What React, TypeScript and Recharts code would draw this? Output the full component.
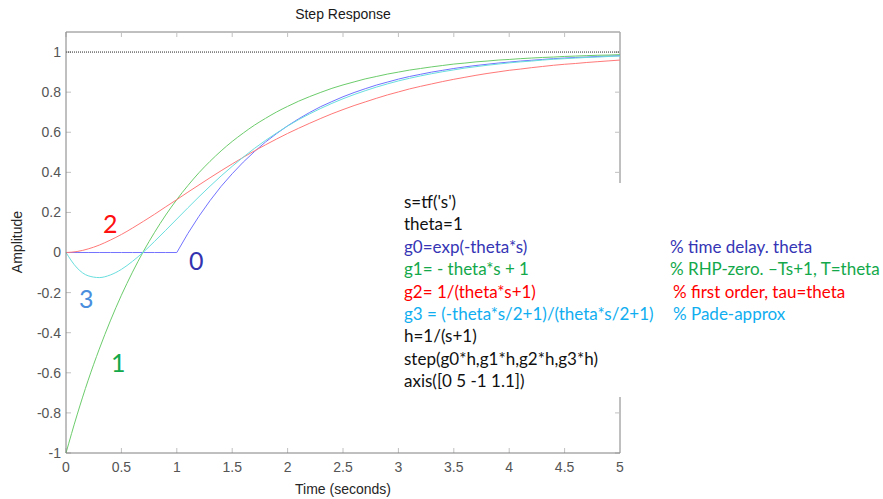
import { LineChart, Line, XAxis, YAxis, ReferenceLine } from "recharts";

const time = [
  0, 0.1, 0.2, 0.3, 0.4, 0.5, 0.6, 0.7, 0.8, 0.9, 1, 1.1, 1.2, 1.3, 1.4, 1.5, 1.6, 1.7, 1.8, 1.9, 2,
  2.1, 2.2, 2.3, 2.4, 2.5, 2.6, 2.7, 2.8, 2.9, 3, 3.1, 3.2, 3.3, 3.4, 3.5, 3.6, 3.7, 3.8, 3.9, 4,
  4.1, 4.2, 4.3, 4.4, 4.5, 4.6, 4.7, 4.8, 4.9, 5,
];

// g0*h : time delay
const delayed = [
  0, 0, 0, 0, 0, 0, 0, 0, 0, 0, 0, 0.095, 0.181, 0.259, 0.33, 0.393, 0.451, 0.503, 0.551, 0.593, 0.632,
  0.667, 0.699, 0.728, 0.753, 0.777, 0.798, 0.817, 0.835, 0.85, 0.865, 0.878, 0.889, 0.9, 0.909, 0.918,
  0.926, 0.933, 0.939, 0.945, 0.95, 0.955, 0.959, 0.963, 0.967, 0.97, 0.973, 0.975, 0.978, 0.98, 0.982,
];

// g1*h : RHP zero
const rhpZero = [
  -1, -0.81, -0.637, -0.482, -0.341, -0.213, -0.098, 0.007, 0.101, 0.187, 0.264, 0.334, 0.398, 0.455,
  0.507, 0.554, 0.596, 0.635, 0.669, 0.701, 0.729, 0.755, 0.778, 0.799, 0.819, 0.836, 0.851, 0.866,
  0.878, 0.89, 0.9, 0.91, 0.918, 0.926, 0.933, 0.94, 0.945, 0.951, 0.955, 0.96, 0.963, 0.967, 0.97,
  0.973, 0.975, 0.978, 0.98, 0.982, 0.984, 0.985, 0.987,
];

// g2*h : first order
const firstOrder = [
  0, 0.005, 0.018, 0.037, 0.062, 0.09, 0.122, 0.156, 0.191, 0.228, 0.264, 0.301, 0.337, 0.373, 0.408,
  0.442, 0.475, 0.507, 0.537, 0.566, 0.594, 0.62, 0.645, 0.669, 0.692, 0.713, 0.733, 0.751, 0.769,
  0.786, 0.801, 0.816, 0.829, 0.841, 0.853, 0.864, 0.874, 0.884, 0.893, 0.901, 0.909, 0.915, 0.922,
  0.928, 0.934, 0.939, 0.943, 0.948, 0.952, 0.956, 0.96,
];

// g3*h : Pade approximation
const pade = [
  0, -0.077, -0.116, -0.125, -0.112, -0.084, -0.044, 0.003, 0.056, 0.111, 0.167, 0.223, 0.278, 0.331,
  0.382, 0.43, 0.476, 0.519, 0.559, 0.596, 0.631, 0.663, 0.692, 0.719, 0.744, 0.767, 0.788, 0.807,
  0.825, 0.841, 0.856, 0.869, 0.881, 0.892, 0.902, 0.911, 0.92, 0.927, 0.934, 0.94, 0.946, 0.951,
  0.955, 0.96, 0.964, 0.967, 0.97, 0.973, 0.975, 0.978, 0.98,
];

const xTicks = [0, 0.5, 1, 1.5, 2, 2.5, 3, 3.5, 4, 4.5, 5];
const yTicks = [-1, -0.8, -0.6, -0.4, -0.2, 0, 0.2, 0.4, 0.6, 0.8, 1];

const codeLines = [
  { code: "s=tf('s')", note: "", color: "#111" },
  { code: "theta=1", note: "", color: "#111" },
  { code: "g0=exp(-theta*s)", note: "% time delay. theta", color: "#3535b5" },
  { code: "g1= - theta*s + 1", note: "% RHP-zero. \u2013Ts+1, T=theta", color: "#13a84a" },
  { code: "g2= 1/(theta*s+1)", note: "% first order, tau=theta", color: "#ff0000" },
  { code: "g3 = (-theta*s/2+1)/(theta*s/2+1)", note: "% Pade-approx", color: "#10aef0" },
  { code: "h=1/(s+1)", note: "", color: "#111" },
  { code: "step(g0*h,g1*h,g2*h,g3*h)", note: "", color: "#111" },
  { code: "axis([0 5 -1 1.1])", note: "", color: "#111" },
];

const data = time.map((t, i) => ({
  t,
  g0: delayed[i],
  g1: rhpZero[i],
  g2: firstOrder[i],
  g3: pade[i],
}));

const axisGrey = "#808080";
const tickGrey = "#c0c0c0";
const font = "'Liberation Sans', Arial, sans-serif";

export default function App() {
  return (
    <div style={{ position: "absolute", left: 0, top: 0, width: 883, height: 499, background: "#fff", fontFamily: font }}>
      <LineChart width={883} height={499} data={data} margin={{ top: 32, right: 263, bottom: 0, left: 0 }}>
        <XAxis
          dataKey="t"
          type="number"
          domain={[0, 5]}
          ticks={xTicks}
          height={46}
          tickLine={false}
          tickSize={4}
          tickMargin={5}
          axisLine={{ stroke: axisGrey }}
          tick={{ fill: "#555", fontSize: 14, fontFamily: font }}
        />
        <YAxis
          type="number"
          domain={[-1, 1.1]}
          ticks={yTicks}
          width={66}
          tickLine={false}
          tickSize={3}
          tickMargin={2}
          axisLine={{ stroke: axisGrey }}
          tick={{ fill: "#555", fontSize: 14, fontFamily: font }}
          allowDataOverflow
        />
        <ReferenceLine segment={[{ x: 0, y: 1.1 }, { x: 5, y: 1.1 }]} stroke={axisGrey} />
        <ReferenceLine segment={[{ x: 5, y: -1 }, { x: 5, y: 1.1 }]} stroke={axisGrey} />
        {xTicks.map((v) => (
          <ReferenceLine key={"xb" + v} segment={[{ x: v, y: -1 }, { x: v, y: -0.975 }]} stroke={tickGrey} />
        ))}
        {xTicks.map((v) => (
          <ReferenceLine key={"xt" + v} segment={[{ x: v, y: 1.1 }, { x: v, y: 1.075 }]} stroke={tickGrey} />
        ))}
        {yTicks.map((v) => (
          <ReferenceLine key={"yl" + v} segment={[{ x: 0, y: v }, { x: 0.045, y: v }]} stroke={tickGrey} />
        ))}
        {yTicks.map((v) => (
          <ReferenceLine key={"yr" + v} segment={[{ x: 4.955, y: v }, { x: 5, y: v }]} stroke={tickGrey} />
        ))}
        <ReferenceLine y={1} stroke="#222" strokeDasharray="1 1" />
        <Line dataKey="g0" type="linear" stroke="#7272ff" strokeWidth={1} dot={false} isAnimationActive={false} />
        <Line dataKey="g1" type="monotone" stroke="#6ccc6c" strokeWidth={1} dot={false} isAnimationActive={false} />
        <Line dataKey="g2" type="monotone" stroke="#ff7878" strokeWidth={1} dot={false} isAnimationActive={false} />
        <Line dataKey="g3" type="monotone" stroke="#6adede" strokeWidth={1} dot={false} isAnimationActive={false} />
      </LineChart>

      <div style={{ position: "absolute", left: 0, width: 686, top: 6, textAlign: "center", fontSize: 14, color: "#1a1a1a" }}>
        Step Response
      </div>
      <div style={{ position: "absolute", left: 0, width: 686, top: 481, textAlign: "center", fontSize: 14, color: "#262626" }}>
        Time (seconds)
      </div>
      <div
        style={{
          position: "absolute",
          left: 17,
          top: 242,
          transform: "translate(-50%, -50%) rotate(-90deg)",
          fontSize: 14,
          color: "#262626",
          whiteSpace: "nowrap",
        }}
      >
        Amplitude
      </div>

      <div style={{ position: "absolute", left: 103, top: 208, fontFamily: "Lato, sans-serif", fontSize: 25, color: "#ff1010" }}>2</div>
      <div style={{ position: "absolute", left: 189, top: 245, fontFamily: "Lato, sans-serif", fontSize: 25, color: "#3333b0" }}>0</div>
      <div style={{ position: "absolute", left: 79, top: 283, fontFamily: "Lato, sans-serif", fontSize: 25, color: "#4a8ede" }}>3</div>
      <div style={{ position: "absolute", left: 111, top: 347, fontFamily: "Lato, sans-serif", fontSize: 25, color: "#13a84a" }}>1</div>

      <div style={{ position: "absolute", left: 388, top: 183, width: 495, height: 214, background: "#fff" }}>
        {codeLines.map((l, i) => (
          <div
            key={i}
            style={{
              position: "absolute",
              left: 16,
              top: 8 + i * 22.4,
              fontFamily: "Lato, sans-serif",
              fontSize: 17,
              color: l.color,
              whiteSpace: "nowrap",
            }}
          >
            {l.code}
            {l.note && (
              <span style={{ position: "absolute", left: i === 2 || i === 3 ? 266 : 269 }}>{l.note}</span>
            )}
          </div>
        ))}
      </div>
    </div>
  );
}
